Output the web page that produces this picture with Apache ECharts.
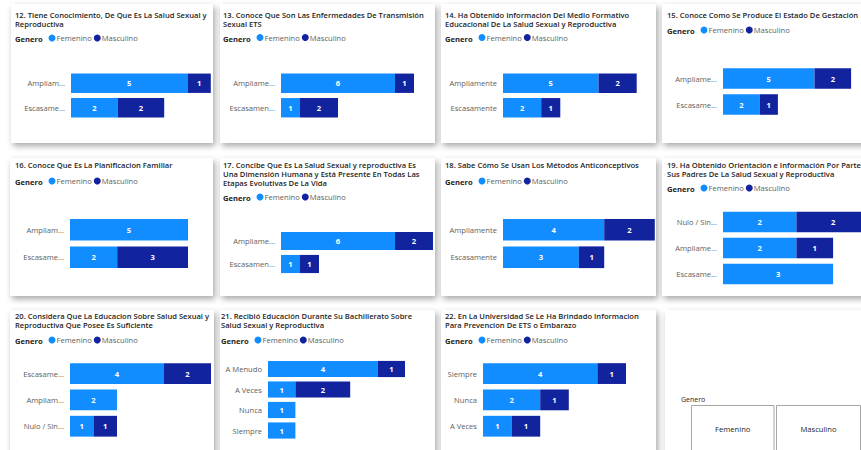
<!DOCTYPE html>
<html><head><meta charset="utf-8">
<script src="https://cdn.jsdelivr.net/npm/echarts@6/dist/echarts.min.js"></script>
<style>html,body{margin:0;padding:0;background:#ffffff;}#c{width:861px;height:450px;}</style>
</head><body><div id="c"></div>
<script>
// ---- data ----
const seriesNames = ['Femenino', 'Masculino'];

const q12Title = '12. Tiene Conocimiento, De Que Es La Salud Sexual y\nReproductiva';
const q12Cats = ['Ampliam...', 'Escasame...'];
const q12Fem = [5, 2];
const q12Masc = [1, 2];

const q13Title = '13. Conoce Que Son Las Enfermedades De Transmisión\nSexual ETS';
const q13Cats = ['Ampliame...', 'Escasamen...'];
const q13Fem = [6, 1];
const q13Masc = [1, 2];

const q14Title = '14. Ha Obtenido Información Del Medio Formativo\nEducacional De La Salud Sexual y Reproductiva';
const q14Cats = ['Ampliamente', 'Escasamente'];
const q14Fem = [5, 2];
const q14Masc = [2, 1];

const q15Title = '15. Conoce Como Se Produce El Estado De Gestación';
const q15Cats = ['Ampliame...', 'Escasame...'];
const q15Fem = [5, 2];
const q15Masc = [2, 1];

const q16Title = '16. Conoce Que Es La Planificacion Familiar';
const q16Cats = ['Ampliam...', 'Escasame...'];
const q16Fem = [5, 2];
const q16Masc = [null, 3];

const q17Title = '17. Concibe Que Es La Salud Sexual y reproductiva Es\nUna Dimensión Humana y Está Presente En Todas Las\nEtapas Evolutivas De La Vida';
const q17Cats = ['Ampliame...', 'Escasamen...'];
const q17Fem = [6, 1];
const q17Masc = [2, 1];

const q18Title = '18. Sabe Cómo Se Usan Los Métodos Anticonceptivos';
const q18Cats = ['Ampliamente', 'Escasamente'];
const q18Fem = [4, 3];
const q18Masc = [2, 1];

const q19Title = '19. Ha Obtenido Orientación e Información Por Parte De\nSus Padres De La Salud Sexual y Reproductiva';
const q19Cats = ['Nulo / Sin...', 'Ampliame...', 'Escasame...'];
const q19Fem = [2, 2, 3];
const q19Masc = [2, 1, null];

const q20Title = '20. Considera Que La Educacion Sobre Salud Sexual y\nReproductiva Que Posee Es Suficiente';
const q20Cats = ['Escasame...', 'Ampliam...', 'Nulo / Sin...'];
const q20Fem = [4, 2, 1];
const q20Masc = [2, null, 1];

const q21Title = '21. Recibió Educación Durante Su Bachillerato Sobre\nSalud Sexual y Reproductiva';
const q21Cats = ['A Menudo', 'A Veces', 'Nunca', 'Siempre'];
const q21Fem = [4, 1, 1, 1];
const q21Masc = [1, 2, null, null];

const q22Title = '22. En La Universidad Se Le Ha Brindado Informacion\nPara Prevencion De ETS o Embarazo';
const q22Cats = ['Siempre', 'Nunca', 'A Veces'];
const q22Fem = [4, 2, 1];
const q22Masc = [1, 1, 1];

const slicerTitle = 'Genero';
const slicerItems = ['Femenino', 'Masculino'];

// ---- layout (positions in px) ----
const FONT = '"Open Sans", "Noto Sans", sans-serif';
const FEM_COLOR = '#118DFF';
const MASC_COLOR = '#12239E';

const panels = [
  {t:q12Title, c:q12Cats, f:q12Fem, m:q12Masc, box:[11,4,202,139], tx:15, ty:11, ly:39, g:[71,71,23.3,49]},
  {t:q13Title, c:q13Cats, f:q13Fem, m:q13Masc, box:[220,4,215,139], tx:223, ty:11, ly:38.5, g:[281,71,19,49]},
  {t:q14Title, c:q14Cats, f:q14Fem, m:q14Masc, box:[441,4,215,139], tx:445, ty:11, ly:38.5, g:[503,71,19.1,49]},
  {t:q15Title, c:q15Cats, f:q15Fem, m:q15Masc, box:[662,4,210,139], tx:667, ty:11, ly:31, g:[723,65.5,18.3,52]},
  {t:q16Title, c:q16Cats, f:q16Fem, m:q16Masc, box:[10,158,203,138], tx:15, ty:161, ly:182, g:[70,216,23.6,55]},
  {t:q17Title, c:q17Cats, f:q17Fem, m:q17Masc, box:[220,158,215,138], tx:223, ty:161, ly:198, g:[281,229.5,19,46]},
  {t:q18Title, c:q18Cats, f:q18Fem, m:q18Masc, box:[441,158,215,138], tx:445, ty:161, ly:182, g:[503,216,25.3,55]},
  {t:q19Title, c:q19Cats, f:q19Fem, m:q19Masc, box:[662,158,210,138], tx:667, ty:161, ly:189, g:[723,209,36.7,78]},
  {t:q20Title, c:q20Cats, f:q20Fem, m:q20Masc, box:[10,310,204,150], tx:15, ty:312, ly:341, g:[70,360.4,23.5,79]},
  {t:q21Title, c:q21Cats, f:q21Fem, m:q21Masc, box:[220,310,215,150], tx:221, ty:312, ly:341, g:[268,358.75,27.4,82]},
  {t:q22Title, c:q22Cats, f:q22Fem, m:q22Masc, box:[441,310,215,150], tx:445, ty:312, ly:341, g:[483,360.4,28.6,79]}
];

const titles = [], legends = [], grids = [], xAxes = [], yAxes = [], series = [], graphics = [];

const shadowStyle = {fill:'#ffffff', shadowBlur:6, shadowOffsetX:2, shadowOffsetY:3, shadowColor:'rgba(0,0,0,0.35)'};

panels.forEach((p, i) => {
  graphics.push({type:'rect', z:-10, shape:{x:p.box[0], y:p.box[1], width:p.box[2], height:p.box[3]}, style:shadowStyle, silent:true});
  titles.push({text:p.t, left:p.tx, top:p.ty, padding:0,
    textStyle:{fontSize:7.6, lineHeight:8.6, fontWeight:600, color:'#252423', fontFamily:FONT}});
  graphics.push({type:'text', z:10, x:p.tx, y:p.ly, silent:true,
    style:{text:'Genero', font:'bold 7.6px ' + FONT, fill:'#252423', verticalAlign:'middle', align:'left'}});
  legends.push({data:seriesNames, left:p.tx + 33.5, top:p.ly - 5, padding:0, icon:'circle',
    itemWidth:7, itemHeight:7, itemGap:2, selectedMode:false,
    textStyle:{fontSize:7.6, color:'#605E5C', fontFamily:FONT, padding:[0,0,0,-4]}});
  const totals = p.f.map((v, k) => (v || 0) + (p.m[k] || 0));
  const maxV = Math.max(...totals);
  grids.push({left:p.g[0], top:p.g[1], width:p.g[2] * maxV, height:p.g[3], containLabel:false, outerBoundsMode:'none'});
  xAxes.push({type:'value', gridIndex:i, min:0, max:maxV, show:false});
  yAxes.push({type:'category', gridIndex:i, data:p.c, inverse:true,
    axisLine:{show:false}, axisTick:{show:false}, splitLine:{show:false},
    axisLabel:{fontSize:7.6, color:'#605E5C', margin:6, fontFamily:FONT}});
  const lbl = {show:true, position:'inside', color:'#ffffff', fontSize:7.6, fontWeight:'bold', fontFamily:FONT,
    formatter: q => (q.value > 0 ? String(q.value) : '')};
  series.push({type:'bar', name:seriesNames[0], stack:'s' + i, xAxisIndex:i, yAxisIndex:i, data:p.f,
    barCategoryGap:'21%', itemStyle:{color:FEM_COLOR}, label:lbl, silent:true});
  series.push({type:'bar', name:seriesNames[1], stack:'s' + i, xAxisIndex:i, yAxisIndex:i, data:p.m,
    barCategoryGap:'21%', itemStyle:{color:MASC_COLOR}, label:lbl, silent:true});
});

// slicer panel
graphics.push({type:'rect', z:-10, shape:{x:665, y:310, width:210, height:150}, style:shadowStyle, silent:true});
graphics.push({type:'text', z:10, x:681, y:399, silent:true,
  style:{text:slicerTitle, font:'7px ' + FONT, fill:'#252423', verticalAlign:'middle'}});
const slicerBoxes = [[691.5, 405.5, 82.5], [776.5, 405.5, 84]];
slicerItems.forEach((s, k) => {
  const b = slicerBoxes[k];
  graphics.push({type:'rect', z:5, shape:{x:b[0], y:b[1], width:b[2], height:60},
    style:{fill:'#ffffff', stroke:'#a6a6a6', lineWidth:1}, silent:true});
  graphics.push({type:'text', z:10, x:b[0] + b[2] / 2, y:429, silent:true,
    style:{text:s, font:'7.6px ' + FONT, fill:'#252423', align:'center', verticalAlign:'middle'}});
});

const chart = echarts.init(document.getElementById('c'), null, {renderer:'svg'});
chart.setOption({
  animation:false,
  color:[FEM_COLOR, MASC_COLOR],
  title:titles,
  legend:legends,
  grid:grids,
  xAxis:xAxes,
  yAxis:yAxes,
  series:series,
  graphic:graphics
});
</script>
</body></html>
